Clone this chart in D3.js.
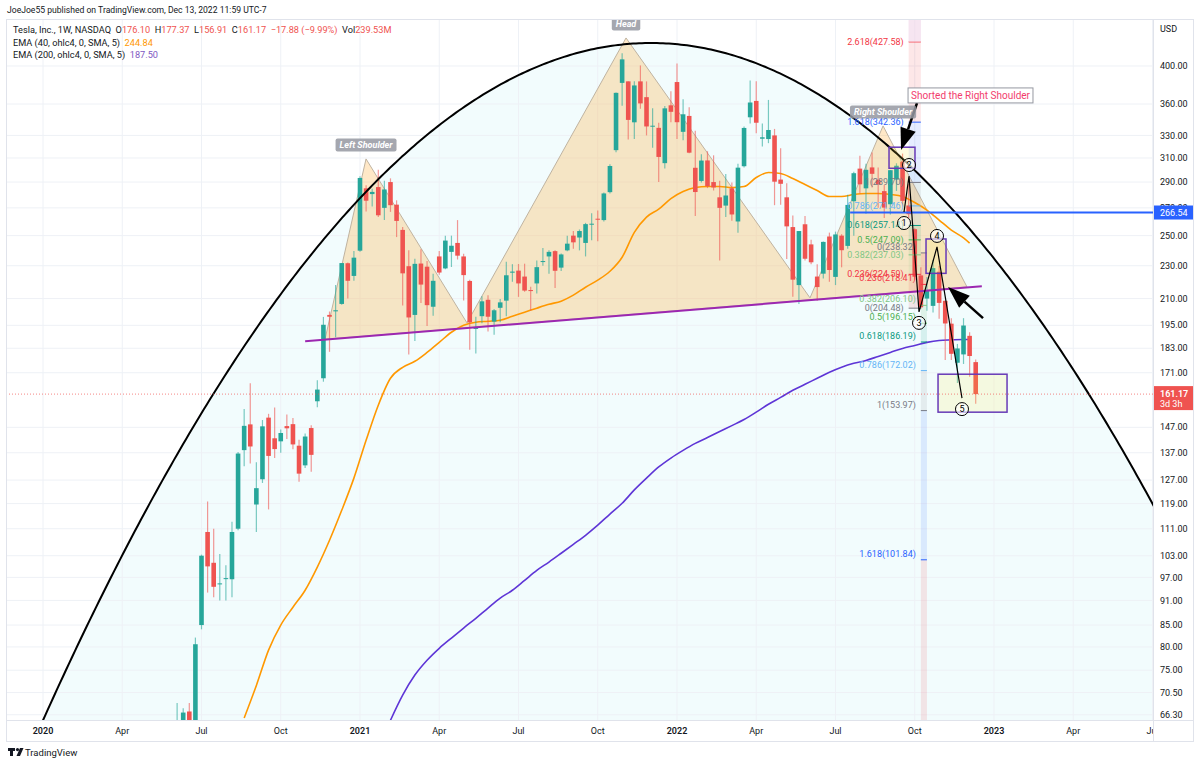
<!DOCTYPE html>
<html lang="en">
<head>
<meta charset="UTF-8">
<title>TSLA 1W - Head and Shoulders</title>
<script src="https://cdn.jsdelivr.net/npm/d3@7/dist/d3.min.js"></script>
<style>
    body { margin: 0; background: #fff; }
    svg text { font-family: Roboto, "Noto Sans", sans-serif; }
</style>
</head>
<body>
<script>
// ---------- data ----------
// weekly candles, first bar is week of 2020-06-01
var firstWeek = "2020-06-01";
var opens = [57.2,60.2,61.3,66.9,64.0,85.0,110.0,101.0,95.2,96.7,96.5,111.0,138.0,148.2,118.7,127.3,151.0,142.6,141.4,147.5,
    148.3,139.7,132.3,146.7,158.0,168.4,200.7,202.7,206.9,231.6,223.6,239.8,285.0,280.5,286.0,270.0,290.0,272.4,254.0,229.7,
    200.7,231.4,229.4,205.3,236.0,228.3,239.0,245.0,236.0,220.5,193.2,200.0,209.3,197.0,204.7,208.8,225.6,226.9,223.2,215.0,
    219.0,233.0,236.0,239.5,228.8,240.0,250.0,248.7,245.0,257.9,262.0,261.0,282.0,316.8,381.7,383.3,342.2,383.3,366.9,338.5,
    337.0,305.6,358.7,382.6,333.3,348.3,301.7,290.9,307.9,290.0,278.0,271.7,285.0,260.0,303.0,347.0,363.1,327.0,326.7,330.0,
    292.0,278.0,256.0,218.0,258.0,244.0,223.2,225.0,249.4,223.0,250.0,243.0,275.0,301.0,285.0,302.0,291.9,282.8,272.7,292.0,
    306.9,271.8,254.5,223.9,210.0,205.8,226.2,208.7,195.9,175.8,179.9,189.4,176.10];
var highs = [59.7,68.5,67.5,68.5,82.1,103.3,119.7,111.0,103.5,100.3,113.2,137.3,154.6,166.1,133.4,150.0,152.6,155.3,146.1,152.3,
    150.8,142.0,144.5,147.8,167.5,199.6,202.6,218.1,231.8,232.0,239.6,294.8,287.5,284.7,300.1,291.0,293.0,275.7,256.0,240.0,
    234.5,240.7,233.0,225.0,239.6,250.0,250.0,261.0,237.7,221.3,199.7,211.4,212.0,204.0,209.7,232.6,231.0,231.1,231.3,217.0,
    233.3,241.6,240.0,240.0,238.0,250.0,253.3,254.3,259.0,266.0,268.0,281.7,304.7,371.7,414.5,383.3,383.3,400.6,383.3,355.7,
    341.7,358.0,373.0,402.7,364.9,356.9,334.2,313.3,315.9,312.3,291.0,296.6,289.7,305.0,338.3,384.3,383.3,341.0,364.1,336.0,
    318.5,289.0,264.4,253.3,264.0,247.1,231.0,246.0,252.1,252.8,251.0,280.0,298.3,311.9,305.0,314.7,302.0,287.7,299.8,305.5,
    313.8,288.5,255.1,229.0,222.9,233.8,229.8,208.9,198.9,185.2,198.9,191.3,177.37];
var lows = [56.2,59.4,60.5,63.0,63.3,84.0,93.0,91.8,91.0,91.0,91.8,110.5,132.0,133.0,110.0,126.0,117.1,135.0,137.0,142.3,
    138.3,126.4,131.3,130.0,155.4,166.8,181.2,188.6,206.5,210.0,220.6,239.1,267.2,271.0,263.2,261.0,267.0,249.0,206.0,179.8,
    186.7,207.4,194.6,200.3,224.3,227.7,229.2,234.0,208.9,182.3,180.4,196.1,191.7,190.0,196.7,200.0,220.0,211.0,214.0,203.0,
    213.0,230.0,225.0,216.3,226.7,239.4,241.0,240.0,236.0,246.9,246.2,260.0,281.0,315.0,358.3,326.2,326.7,355.3,330.0,319.0,
    290.1,301.0,342.3,326.7,325.7,314.0,264.0,289.6,285.2,283.3,233.3,263.3,260.5,252.0,302.0,341.0,332.0,320.0,323.0,272.0,
    272.3,234.3,211.0,206.9,233.3,231.0,208.7,222.0,220.0,218.0,229.0,241.0,250.0,281.0,265.7,285.7,270.0,262.5,265.0,283.0,
    271.0,262.5,221.2,204.2,203.0,202.0,198.6,177.1,177.1,166.2,175.2,169.1,156.91];
var closes = [59.0,62.4,66.7,64.0,80.6,103.0,100.0,94.5,95.4,96.8,110.0,136.7,147.6,139.4,124.2,147.4,135.8,138.4,144.7,146.6,
    140.2,129.3,143.3,136.2,163.2,195.3,199.7,203.3,231.7,220.6,235.2,293.3,275.4,282.2,264.5,284.1,272.0,260.4,225.2,199.3,
    231.2,218.3,206.2,220.6,225.7,246.6,243.1,236.5,224.1,196.6,193.6,208.4,199.7,203.3,207.8,224.0,226.3,219.0,214.7,214.5,
    229.1,233.0,239.0,226.8,237.3,244.5,245.4,253.2,258.1,258.4,261.8,281.0,303.2,371.3,407.4,344.5,379.0,360.6,338.3,339.0,
    310.9,355.7,352.3,342.3,349.9,314.6,282.1,307.8,286.7,285.7,270.0,279.4,265.1,301.8,336.9,361.5,341.8,328.3,335.0,290.3,
    288.6,256.5,221.3,253.2,234.5,232.2,216.8,245.7,227.3,250.8,240.1,272.2,297.2,288.2,300.0,296.7,288.1,270.2,299.7,303.4,
    275.3,265.3,223.1,205.0,214.4,228.5,207.5,196.0,180.2,182.9,194.9,179.1,161.17];

// EMA readings, one every 2 weeks
var ema40Start = "2020-08-24";
var ema40 = [65.7,71.9,79.3,85.0,89.3,93.6,99.8,107.5,116.8,127.7,141.8,156.3,168.4,173.6,176.5,180.9,186.0,191.3,195.0,196.7,
    197.2,197.8,200.0,202.2,204.5,206.7,208.5,212.0,216.7,221.0,226.5,235.5,252.3,263.2,269.0,277.0,282.5,285.6,286.4,286.4,
    285.6,286.4,293.7,297.8,297.0,292.9,288.0,283.3,278.6,278.6,280.2,281.0,281.0,280.2,278.6,274.0,268.3,261.0,253.9,248.4,244.84];
var ema200Start = "2021-02-08";
var ema200 = [65.3,70.0,74.0,77.1,79.7,82.0,84.3,86.6,89.1,91.6,93.6,96.2,98.9,101.2,103.7,106.3,109.0,112.1,115.6,119.1,
    123.6,127.7,131.7,135.0,137.9,140.6,142.9,145.3,147.7,150.2,153.3,156.7,159.7,162.9,165.6,168.4,171.2,173.6,175.5,176.9,
    178.9,180.9,182.9,184.4,186.0,187.0,187.3,187.5,187.50];

// axes
var priceTicks = [400,360,330,310,290,270,250,230,210,195,183,171,147,137,127,119,111,103,97,91,85,80,75,70.5,66.3];
var timeTicks = ["2020-01-06","2020-04-06","2020-07-06","2020-10-05","2021-01-04","2021-04-05","2021-07-05","2021-10-04",
    "2022-01-03","2022-04-04","2022-07-04","2022-10-03","2023-01-02","2023-04-03","2023-07-03"];
var timeLabels = ["2020","Apr","Jul","Oct","2021","Apr","Jul","Oct","2022","Apr","Jul","Oct","2023","Apr","Jul"];

// drawings: positions as [week number from 2020-01-06, price]
var arcVertex = [99.74, 426.3], arcSide = [182.1, 118.6];
var hsPoints = [[46.26,187.6],[52.99,309.2],[69.55,196.3],[95.64,432.3],[125.82,210.4],[137.80,338.8],[151.57,216.9]];
var hsNames = ["Left Shoulder", "Head", "Right Shoulder"];
var neckline = [[43.0,186.6],[154.0,217.3]];
var fibALevels = ["0","0.236","0.382","0.5","0.618","0.786","1","1.618","2.618","3.618"];
var fibAPrices = [204.48,224.59,237.03,247.09,257.14,271.46,289.70,342.36,427.58,512.80];
var fibAWeeks = [142, 144];
var fibBLevels = ["0","0.236","0.382","0.5","0.618","0.786","1","1.618","2.618"];
var fibBPrices = [238.32,218.41,206.10,196.15,186.19,172.02,153.97,101.84,17.50];
var fibBWeeks = [144, 145];
var hLine = [132.4, 266.54];
var boxes = [[138.78,319.4,143.04,301.3],[144.85,247.7,148.13,225.2],[146.82,170.3,158.14,153.3]];
var wavePoints = [[141.24,266.9],[142.06,294.9],[143.70,202.4],[146.65,242.3],[150.75,159.4]];
var arrows = [[[143.37,361.0],[140.75,316.9]],[[154.2,198.9],[148.46,216.8]]];
var note = [141.9, 376.4, "Shorted the Right Shoulder"];

var lastPrice = 161.17;

// ---------- layout ----------
var w = 1200, h = 765;
var L = 6, T = 19, R = 1153, B = 720, AR = 1193, AB = 741;
var DAY = 864e5;
var parse = d3.utcParse("%Y-%m-%d");
function wk(n) { return new Date(Date.UTC(2020, 0, 6) + n * 7 * DAY); }

var xScale = d3.scaleUtc()
    .domain([parse("2020-01-06"), parse("2023-01-02")])
    .range([43, 994]);
var yScale = d3.scaleLog()
    .domain([455.6, 65.34])
    .range([T, B]);
function px(p) { return xScale(wk(p[0])); }
function py(p) { return yScale(p[1]); }

var fibColors = {"0":"#787b86","0.236":"#f23645","0.382":"#81c784","0.5":"#4caf50","0.618":"#089981",
    "0.786":"#64b5f6","1":"#787b86","1.618":"#2962ff","2.618":"#f23645","3.618":"#9c27b0"};

var up = "#26a69a", down = "#ef5350";

var svg = d3.select("body").append("svg")
    .attr("width", w)
    .attr("height", h);

svg.append("rect").attr("width", w).attr("height", h).attr("fill", "#fff");

svg.append("defs").append("clipPath").attr("id", "plot")
    .append("rect").attr("x", L).attr("y", T).attr("width", R - L).attr("height", B - T);

var plot = svg.append("g").attr("clip-path", "url(#plot)");

//Arc fill
var vx = px(arcVertex), vy = py(arcVertex);
var k = (py(arcSide) - vy) / Math.pow(px(arcSide) - vx, 2);
var arcPts = d3.range(0, 1164, 3).map(function(xx) { return [xx, vy + k * (xx - vx) * (xx - vx)]; });
plot.append("path")
    .attr("d", d3.line()(arcPts.concat([[1163, 900], [0, 900]])) + "Z")
    .attr("fill", "#00bcd4")
    .attr("fill-opacity", 0.05);

//Grid
plot.selectAll("line.vg")
    .data(timeTicks)
    .enter()
    .append("line")
    .attr("x1", function(d) { return xScale(parse(d)); })
    .attr("x2", function(d) { return xScale(parse(d)); })
    .attr("y1", T).attr("y2", B)
    .attr("stroke", "#eef1f6");
plot.selectAll("line.hg")
    .data(priceTicks)
    .enter()
    .append("line")
    .attr("x1", L).attr("x2", R)
    .attr("y1", function(d) { return yScale(d); })
    .attr("y2", function(d) { return yScale(d); })
    .attr("stroke", "#eef1f6");

//Head and shoulders fill
plot.append("path")
    .attr("d", d3.line().x(px).y(py)(hsPoints) + "Z")
    .attr("fill", "#ff9800")
    .attr("fill-opacity", 0.22)
    .attr("stroke", "#bfb3a0")
    .attr("stroke-width", 1);

//Fib background bands
function fibBands(levels, prices, weeks) {
    for (var i = 0; i < levels.length - 1; i++) {
        var y1 = yScale(prices[i]), y2 = yScale(prices[i + 1]);
        plot.append("rect")
            .attr("x", xScale(wk(weeks[0])))
            .attr("width", xScale(wk(weeks[1])) - xScale(wk(weeks[0])))
            .attr("y", Math.min(y1, y2))
            .attr("height", Math.abs(y2 - y1))
            .attr("fill", fibColors[levels[i + 1]])
            .attr("fill-opacity", 0.12);
    }
}
fibBands(fibALevels, fibAPrices, fibAWeeks);
fibBands(fibBLevels, fibBPrices, fibBWeeks);

//EMA lines
function emaSeries(start, vals) {
    var s = parse(start);
    return vals.map(function(v, i) {
        var d = new Date(s.getTime() + i * 14 * DAY);
        if (i == vals.length - 1) d = new Date(s.getTime() + (i * 2 - 1) * 7 * DAY);
        return {date: d, v: v};
    });
}
var emaLine = d3.line()
    .x(function(d) { return xScale(d.date); })
    .y(function(d) { return yScale(d.v); })
    .curve(d3.curveMonotoneX);
plot.append("path").datum(emaSeries(ema40Start, ema40))
    .attr("d", emaLine).attr("fill", "none").attr("stroke", "#ff9800").attr("stroke-width", 1.6);
plot.append("path").datum(emaSeries(ema200Start, ema200))
    .attr("d", emaLine).attr("fill", "none").attr("stroke", "#5e35d6").attr("stroke-width", 1.6);

//Candles
var f0 = parse(firstWeek);
var candles = opens.map(function(o, i) {
    return {date: new Date(f0.getTime() + i * 7 * DAY), o: o, h: highs[i], l: lows[i], c: closes[i]};
});
var cg = plot.append("g");
cg.selectAll("line.wick")
    .data(candles)
    .enter()
    .append("line")
    .attr("x1", function(d) { return xScale(d.date); })
    .attr("x2", function(d) { return xScale(d.date); })
    .attr("y1", function(d) { return yScale(d.h); })
    .attr("y2", function(d) { return yScale(d.l); })
    .attr("stroke", function(d) { return d.c >= d.o ? up : down; })
    .attr("stroke-opacity", 0.6)
    .attr("stroke-width", 1.2);
cg.selectAll("rect.body")
    .data(candles)
    .enter()
    .append("rect")
    .attr("x", function(d) { return xScale(d.date) - 2.3; })
    .attr("width", 4.6)
    .attr("y", function(d) { return yScale(Math.max(d.o, d.c)); })
    .attr("height", function(d) { return Math.max(1, Math.abs(yScale(d.o) - yScale(d.c))); })
    .attr("fill", function(d) { return d.c >= d.o ? up : down; });

//Neckline
plot.append("line")
    .attr("x1", px(neckline[0])).attr("y1", py(neckline[0]))
    .attr("x2", px(neckline[1])).attr("y2", py(neckline[1]))
    .attr("stroke", "#9c27b0").attr("stroke-width", 2);

//Arc line
plot.append("path")
    .attr("d", d3.line()(arcPts))
    .attr("fill", "none").attr("stroke", "#000").attr("stroke-width", 2);

//Horizontal ray
plot.append("line")
    .attr("x1", px(hLine)).attr("x2", R)
    .attr("y1", yScale(hLine[1])).attr("y2", yScale(hLine[1]))
    .attr("stroke", "#2962ff").attr("stroke-width", 2);

//Fib lines and labels
function fibLines(levels, prices, weeks, above) {
    var x0 = xScale(wk(weeks[0])), x1 = xScale(wk(weeks[1]));
    levels.forEach(function(lv, i) {
        var yy = yScale(prices[i]);
        if (yy < T + 4 || yy > B - 4) return;
        plot.append("line").attr("x1", x0).attr("x2", x1).attr("y1", yy).attr("y2", yy)
            .attr("stroke", fibColors[lv]).attr("stroke-width", 1);
        plot.append("text")
            .attr("x", x0 - 5)
            .attr("y", above ? yy - 3 : yy + 3)
            .attr("text-anchor", "end")
            .attr("font-size", 9)
            .attr("fill", fibColors[lv])
            .text(lv + "(" + prices[i].toFixed(2) + ")");
    });
}
fibLines(fibALevels, fibAPrices, fibAWeeks, false);
fibLines(fibBLevels, fibBPrices, fibBWeeks, true);

//Boxes
plot.selectAll("rect.box")
    .data(boxes)
    .enter()
    .append("rect")
    .attr("x", function(d) { return xScale(wk(d[0])); })
    .attr("y", function(d) { return yScale(d[1]); })
    .attr("width", function(d) { return xScale(wk(d[2])) - xScale(wk(d[0])); })
    .attr("height", function(d) { return yScale(d[3]) - yScale(d[1]); })
    .attr("fill", "#ffeb3b").attr("fill-opacity", 0.15)
    .attr("stroke", "#673ab7").attr("stroke-width", 1.5);

//Elliott wave
plot.append("path")
    .attr("d", d3.line().x(px).y(py)(wavePoints))
    .attr("fill", "none").attr("stroke", "#000").attr("stroke-width", 1.2);
var wl = plot.selectAll("g.wl")
    .data(wavePoints)
    .enter()
    .append("g")
    .attr("transform", function(d, i) {
        return "translate(" + px(d) + "," + (py(d) + (i % 2 == 0 ? 11 : -11)) + ")";
    });
wl.append("circle").attr("r", 6.5).attr("fill", "#fff").attr("fill-opacity", 0.6).attr("stroke", "#000");
wl.append("text").attr("text-anchor", "middle").attr("dy", "0.35em").attr("font-size", 9).attr("fill", "#000")
    .text(function(d, i) { return i + 1; });

//Arrows
arrows.forEach(function(a) {
    var x1 = px(a[0]), y1 = py(a[0]), x2 = px(a[1]), y2 = py(a[1]);
    var ang = Math.atan2(y2 - y1, x2 - x1), hl = 22, hw = 8;
    var bx = x2 - hl * Math.cos(ang), by = y2 - hl * Math.sin(ang);
    plot.append("line").attr("x1", x1).attr("y1", y1).attr("x2", bx).attr("y2", by)
        .attr("stroke", "#000").attr("stroke-width", 2.5);
    plot.append("path")
        .attr("d", "M" + x2 + "," + y2 +
            "L" + (bx + hw * Math.sin(ang)) + "," + (by - hw * Math.cos(ang)) +
            "L" + (bx - hw * Math.sin(ang)) + "," + (by + hw * Math.cos(ang)) + "Z")
        .attr("fill", "#000");
});

//Note box
var ng = plot.append("g").attr("transform", "translate(" + xScale(wk(note[0])) + "," + yScale(note[1]) + ")");
var nr = ng.append("rect").attr("fill", "#fff").attr("stroke", "#9598a1").attr("stroke-width", 1);
var nt = ng.append("text").attr("x", 3).attr("y", 11).attr("font-size", 10).attr("fill", "#f23d6d").text(note[2]);
nr.attr("width", nt.node().getComputedTextLength() + 6).attr("height", 15);

//Pattern labels
[1, 3, 5].forEach(function(pi, j) {
    var p = hsPoints[pi];
    var g = plot.append("g").attr("transform", "translate(" + px(p) + "," + (py(p) - 14) + ")");
    var r = g.append("rect").attr("rx", 2).attr("fill", "#9598a1").attr("fill-opacity", 0.85);
    var t = g.append("text").attr("text-anchor", "middle").attr("dy", "0.35em")
        .attr("font-size", 9).attr("font-style", "italic").attr("font-weight", "bold")
        .attr("fill", "#fff").text(hsNames[j]);
    var tw = t.node().getComputedTextLength();
    r.attr("x", -tw / 2 - 4).attr("y", -6.5).attr("width", tw + 8).attr("height", 13);
});

//Fib A pale band over pattern label
plot.append("rect")
    .attr("x", xScale(wk(fibAWeeks[0]))).attr("y", T)
    .attr("width", xScale(wk(fibAWeeks[1])) - xScale(wk(fibAWeeks[0])))
    .attr("height", yScale(fibAPrices[8]) - T)
    .attr("fill", "#f8e4ef").attr("fill-opacity", 0.6);

//Last price line
plot.append("line")
    .attr("x1", L).attr("x2", R)
    .attr("y1", yScale(lastPrice)).attr("y2", yScale(lastPrice))
    .attr("stroke", down).attr("stroke-opacity", 0.7).attr("stroke-dasharray", "1,2");

// ---------- frame and axes ----------
svg.append("rect").attr("x", L + 0.5).attr("y", T + 0.5).attr("width", AR - L).attr("height", AB - T)
    .attr("fill", "none").attr("stroke", "#e0e3eb");
svg.append("line").attr("x1", R + 0.5).attr("x2", R + 0.5).attr("y1", T).attr("y2", AB).attr("stroke", "#e0e3eb");
svg.append("line").attr("x1", L).attr("x2", AR).attr("y1", B + 0.5).attr("y2", B + 0.5).attr("stroke", "#e0e3eb");

svg.append("defs").append("clipPath").attr("id", "taxis")
    .append("rect").attr("x", L).attr("y", B).attr("width", R - L).attr("height", AB - B);
svg.append("g").attr("clip-path", "url(#taxis)")
    .selectAll("text")
    .data(timeTicks)
    .enter()
    .append("text")
    .attr("x", function(d) { return xScale(parse(d)); })
    .attr("y", 734)
    .attr("text-anchor", "middle")
    .attr("font-size", 9)
    .attr("font-weight", function(d, i) { return timeLabels[i].length == 4 ? 600 : 400; })
    .attr("fill", "#131722")
    .text(function(d, i) { return timeLabels[i]; });

svg.selectAll("text.pt")
    .data(priceTicks)
    .enter()
    .append("text")
    .attr("x", 1160)
    .attr("y", function(d) { return yScale(d); })
    .attr("dy", "0.35em")
    .attr("font-size", 9)
    .attr("fill", "#131722")
    .text(function(d) { return d.toFixed(2); });
svg.append("text").attr("x", 1160).attr("y", 32).attr("font-size", 9).attr("fill", "#131722").text("USD");

// blue ray label
var hy = yScale(hLine[1]);
svg.append("rect").attr("x", R + 1).attr("y", hy - 7).attr("width", AR - R - 1).attr("height", 14).attr("fill", "#2962ff");
svg.append("text").attr("x", 1160).attr("y", hy).attr("dy", "0.35em").attr("font-size", 9).attr("fill", "#fff")
    .text(hLine[1].toFixed(2));

// last price label
var ly = yScale(lastPrice);
svg.append("rect").attr("x", R + 1).attr("y", ly - 8).attr("width", AR - R - 1).attr("height", 24).attr("fill", down);
svg.append("text").attr("x", 1160).attr("y", ly + 3).attr("font-size", 9).attr("font-weight", 600).attr("fill", "#fff")
    .text(lastPrice.toFixed(2));
svg.append("text").attr("x", 1160).attr("y", ly + 13).attr("font-size", 9).attr("fill", "#fff").text("3d 3h");

// ---------- header, legend, footer ----------
svg.append("text").attr("x", 7).attr("y", 13).attr("font-size", 8.6).attr("fill", "#131722")
    .text("JoeJoe55 published on TradingView.com, Dec 13, 2022 11:59 UTC-7");

var legendRows = [
    [["Tesla, Inc., 1W, NASDAQ  ", "#131722"], ["O", "#131722"], ["176.10  ", down], ["H", "#131722"], ["177.37  ", down],
     ["L", "#131722"], ["156.91  ", down], ["C", "#131722"], ["161.17  ", down], ["\u221217.88 (\u22129.99%)  ", down],
     ["Vol", "#131722"], ["239.53M", down]],
    [["EMA (40, ohlc4, 0, SMA, 5)  ", "#131722"], ["244.84", "#ff9800"]],
    [["EMA (200, ohlc4, 0, SMA, 5)  ", "#131722"], ["187.50", "#7e57c2"]]
];
legendRows.forEach(function(row, i) {
    var t = svg.append("text").attr("x", 13).attr("y", 33 + i * 12.5).attr("font-size", 9.2)
        .attr("xml:space", "preserve").style("white-space", "pre");
    row.forEach(function(p) { t.append("tspan").attr("fill", p[1]).text(p[0]); });
});

// footer logo
var fg = svg.append("g").attr("transform", "translate(8,748)");
fg.append("path").attr("d", "M0,0H7V3H5V8H2V3H0Z").attr("fill", "#131722");
fg.append("circle").attr("cx", 9.5).attr("cy", 1.6).attr("r", 1.6).attr("fill", "#131722");
fg.append("path").attr("d", "M12,0H15.5L12,8H8.5Z").attr("fill", "#131722");
svg.append("text").attr("x", 25).attr("y", 755.5).attr("font-size", 9.5).attr("fill", "#131722").text("TradingView");
</script>
</body>
</html>
